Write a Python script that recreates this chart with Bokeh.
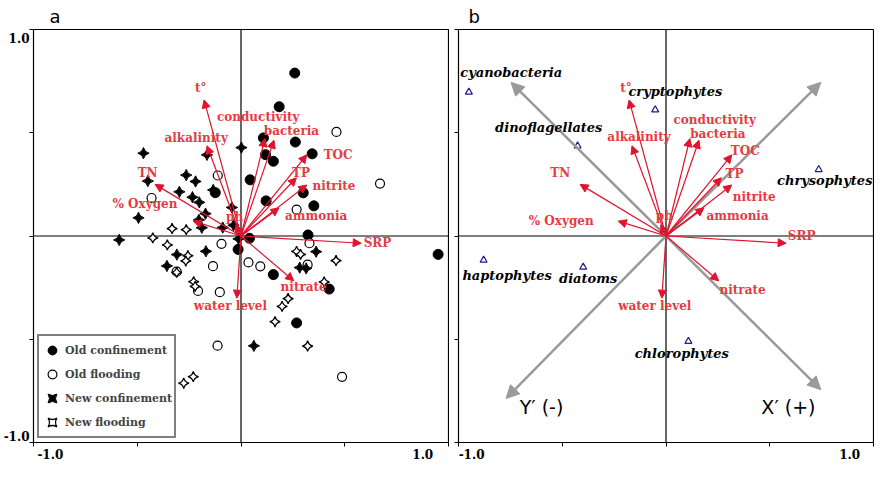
import math
from bokeh.plotting import figure
from bokeh.models import (Range1d, FixedTicker, Span, Arrow, NormalHead, LinearAxis,
                          Legend, LegendItem, ColumnDataSource)
from bokeh.layouts import row
from bokeh.embed import file_html
from bokeh.resources import INLINE
from bokeh.core.properties import value

# ---------------- data ----------------
# panel a: sample scores
oc_x = [0.259, 0.184, 0.108, 0.262, 0.343, 0.118, 0.156, 0.044, -0.124, 0.300,
        0.121, 0.351, 0.323, 0.041, -0.014, 0.156, 0.425, 0.268, 0.950]
oc_y = [0.789, 0.626, 0.475, 0.455, 0.398, 0.394, 0.362, 0.272, 0.210, 0.209,
        0.170, 0.146, 0.005, -0.011, -0.065, -0.187, -0.257, -0.421, -0.089]

of_x = [0.460, 0.670, -0.112, -0.431, 0.268, 0.330, -0.094, 0.036, 0.093, -0.135,
        0.321, -0.207, -0.102, -0.113, 0.487, -0.310]
of_y = [0.504, 0.254, 0.293, 0.184, 0.128, -0.035, -0.038, -0.128, -0.147, -0.146,
        -0.139, -0.266, -0.272, -0.531, -0.682, -0.173]

nc_x = [-0.470, -0.449, -0.264, -0.219, -0.297, -0.234, -0.201, -0.494, -0.164, 0.002,
        -0.171, -0.044, -0.134, -0.036, -0.088, -0.203, -0.189, -0.587, -0.012, -0.309,
        -0.357, -0.169, 0.362, 0.283, 0.314, 0.062]
nc_y = [0.401, 0.266, 0.295, 0.264, 0.214, 0.188, 0.163, 0.088, 0.393, 0.428,
        0.108, 0.138, 0.223, 0.052, 0.041, 0.078, 0.040, -0.019, -0.014, -0.090,
        -0.145, -0.074, -0.076, -0.153, -0.157, -0.532]

nf_x = [-0.332, -0.264, -0.425, -0.355, -0.256, -0.266, -0.310, -0.228, -0.221, -0.398,
        -0.230, -0.276, 0.268, 0.287, 0.458, 0.401, 0.227, 0.198, 0.164, 0.321]
nf_y = [0.036, 0.031, -0.009, -0.043, -0.095, -0.121, -0.176, -0.221, -0.244, -0.502,
        -0.681, -0.713, -0.075, -0.089, -0.119, -0.222, -0.303, -0.341, -0.415, -0.533]

group_names = ["Old confinement", "Old flooding", "New confinement", "New flooding"]

# environmental vectors (both panels)
env_names = ["t\u00b0", "alkalinity", "conductivity", "bacteria", "TOC", "TP", "nitrite",
             "ammonia", "TN", "% Oxygen", "ph", "SRP", "nitrate", "water level"]
env_x = [-0.178, -0.164, 0.115, 0.159, 0.317, 0.267, 0.317, 0.183, -0.414, -0.230,
         -0.025, 0.579, 0.254, -0.020]
env_y = [0.659, 0.437, 0.472, 0.464, 0.393, 0.282, 0.247, 0.136, 0.250, 0.072,
         0.055, -0.035, -0.217, -0.301]

# label anchor points for the vectors
lab_a_x = [-0.194, -0.216, 0.083, 0.243, 0.468, 0.289, 0.448, 0.362, -0.450, -0.463,
           -0.031, 0.658, 0.302, -0.051]
lab_a_y = [0.717, 0.476, 0.575, 0.507, 0.393, 0.305, 0.241, 0.095, 0.303, 0.157,
           0.092, -0.035, -0.248, -0.339]
lab_b_x = [-0.193, -0.130, 0.235, 0.250, 0.382, 0.330, 0.425, 0.345, -0.510, -0.505,
           -0.008, 0.654, 0.369, -0.054]
lab_b_y = [0.717, 0.480, 0.562, 0.496, 0.412, 0.301, 0.187, 0.095, 0.305, 0.073,
           0.095, 0.001, -0.260, -0.339]

# panel b: phytoplankton groups
sp_names = ["cyanobacteria", "cryptophytes", "dinoflagellates", "chrysophytes",
            "haptophytes", "diatoms", "chlorophytes"]
sp_x = [-0.950, -0.052, -0.426, 0.736, -0.879, -0.399, 0.108]
sp_y = [0.697, 0.611, 0.436, 0.322, -0.117, -0.151, -0.510]
sp_lab_x = [-0.746, 0.045, -0.565, 0.765, -0.766, -0.375, 0.076]
sp_lab_y = [0.793, 0.700, 0.527, 0.269, -0.189, -0.206, -0.569]

# rotated axes in panel b
rot_x = [-0.747, 0.746, -0.771, 0.746]
rot_y = [0.744, 0.744, -0.787, -0.744]
rot_names = ["Y\u2032 (-)", "X\u2032 (+)"]
rot_lab_x = [-0.600, 0.590]
rot_lab_y = [-0.830, -0.830]

# axis ticks and where their "-1.0"/"1.0" labels sit
ticks = [-1.0, -0.5, 0.0, 0.5, 1.0]
tick_labels = ["-1.0", "1.0"]
a_xlab_pos = [-0.919, 0.876]
a_ylab_pos = [-0.967, 0.957]
b_xlab_pos = [-0.937, 0.885]
panel_titles = ["a", "b"]

RED = "#E0142E"
RED_TXT = "#E63B3F"
SERIF = "DejaVu Serif"


def make_fig(width, left, right, title):
    p = figure(width=width, height=462, x_range=Range1d(-1, 1), y_range=Range1d(-1, 1),
               output_backend="svg", toolbar_location=None,
               min_border_left=left, min_border_right=right,
               min_border_top=28, min_border_bottom=20, title=title)
    p.title.text_font = "DejaVu Sans"
    p.title.text_font_style = "normal"
    p.title.text_font_size = "18px"
    p.title.text_color = "black"
    p.title.align = "left"
    p.title.standoff = 6
    p.grid.visible = False
    p.outline_line_color = "black"
    p.outline_line_width = 1.2
    for ax in (p.xaxis[0], p.yaxis[0]):
        ax.ticker = FixedTicker(ticks=ticks, minor_ticks=[])
        ax.major_tick_in = 0
        ax.major_tick_out = 4
        ax.minor_tick_out = 0
        ax.minor_tick_in = 0
        ax.major_tick_line_color = "black"
        ax.axis_line_color = "black"
        ax.major_label_text_font_size = "0px"
        ax.major_label_standoff = 0
        ax.major_label_overrides = {t: "" for t in ticks}
    p.add_layout(Span(location=0, dimension="height", line_color="black", line_width=1.2, level="underlay"))
    p.add_layout(Span(location=0, dimension="width", line_color="black", line_width=1.2, level="underlay"))
    return p


def label_axis(positions, standoff):
    ax = LinearAxis(ticker=FixedTicker(ticks=positions, minor_ticks=[]),
                    major_label_overrides={positions[0]: tick_labels[0], positions[1]: tick_labels[1]},
                    major_tick_in=0, major_tick_out=0, minor_tick_in=0, minor_tick_out=0,
                    axis_line_color=None, major_tick_line_color=None,
                    major_label_standoff=standoff,
                    major_label_text_font=SERIF, major_label_text_font_style="bold",
                    major_label_text_font_size="12px", major_label_text_color="black")
    return ax


def add_vectors(p, lx, ly):
    src = ColumnDataSource(dict(x0=[0.0] * len(env_x), y0=[0.0] * len(env_y),
                                x1=env_x, y1=env_y))
    p.add_layout(Arrow(end=NormalHead(size=8, fill_color=RED, line_color=RED, line_width=1),
                       x_start="x0", y_start="y0", x_end="x1", y_end="y1", source=src,
                       line_color=RED, line_width=1.2))
    lsrc = ColumnDataSource(dict(x=lx, y=ly, t=env_names))
    p.text(x="x", y="y", text="t", source=lsrc, text_align="center", text_baseline="middle",
           text_font=value(SERIF), text_font_style="bold", text_font_size="12px",
           text_color=RED_TXT, level="overlay")


# ---------------- panel a ----------------
pa = make_fig(449, 33, 1, panel_titles[0])
pa.title.offset = 16
r_oc = pa.scatter(oc_x, oc_y, marker="circle", size=10, fill_color="black", line_color="black")
r_of = pa.scatter(of_x, of_y, marker="circle", size=9, fill_color="white", line_color="black",
                  line_width=1.2)
r_nc = pa.scatter(nc_x, nc_y, marker="square_pin", size=8, angle=math.pi / 4,
                  fill_color="black", line_color="black", line_width=1)
r_nf = pa.scatter(nf_x, nf_y, marker="square_pin", size=7.5, angle=math.pi / 4,
                  fill_color="white", line_color="black", line_width=1.3)
add_vectors(pa, lab_a_x, lab_a_y)

legend = Legend(items=[LegendItem(label=group_names[0], renderers=[r_oc]),
                       LegendItem(label=group_names[1], renderers=[r_of]),
                       LegendItem(label=group_names[2], renderers=[r_nc]),
                       LegendItem(label=group_names[3], renderers=[r_nf])],
                location=(4, 4), border_line_color="black", border_line_width=2,
                padding=2, spacing=0, margin=0, glyph_width=22, glyph_height=24,
                label_height=24, label_standoff=2, label_text_font=SERIF,
                label_text_font_style="bold", label_text_font_size="11px",
                background_fill_color="white", background_fill_alpha=1.0)
pa.add_layout(legend)
pa.add_layout(label_axis(a_xlab_pos, 2), "below")
pa.add_layout(label_axis(a_ylab_pos, 0), "left")

# ---------------- panel b ----------------
pb = make_fig(425, 9, 1, panel_titles[1])
pb.title.offset = 10
rsrc = ColumnDataSource(dict(x0=[0.0] * 4, y0=[0.0] * 4, x1=rot_x, y1=rot_y))
pb.add_layout(Arrow(end=NormalHead(size=13, fill_color="#9a9a9a", line_color="#9a9a9a", line_width=1),
                    x_start="x0", y_start="y0", x_end="x1", y_end="y1", source=rsrc,
                    line_color="#9a9a9a", line_width=2.5))
add_vectors(pb, lab_b_x, lab_b_y)
pb.scatter(sp_x, sp_y, marker="triangle", size=7, fill_color=None, line_color="#1b1b8f",
           line_width=1.2)
pb.text(x=sp_lab_x, y=sp_lab_y, text=sp_names, text_align="center", text_baseline="middle",
        text_font=value(SERIF), text_font_style="bold italic", text_font_size="13px",
        text_color="black", level="overlay")
pb.text(x=rot_lab_x, y=rot_lab_y, text=rot_names, text_align="center", text_baseline="middle",
        text_font=value("DejaVu Sans"), text_font_size="19px", text_color="black", level="overlay")
pb.add_layout(label_axis(b_xlab_pos, 2), "below")

layout = row(pa, pb)
open("out.html", "w").write(file_html(layout, INLINE))
